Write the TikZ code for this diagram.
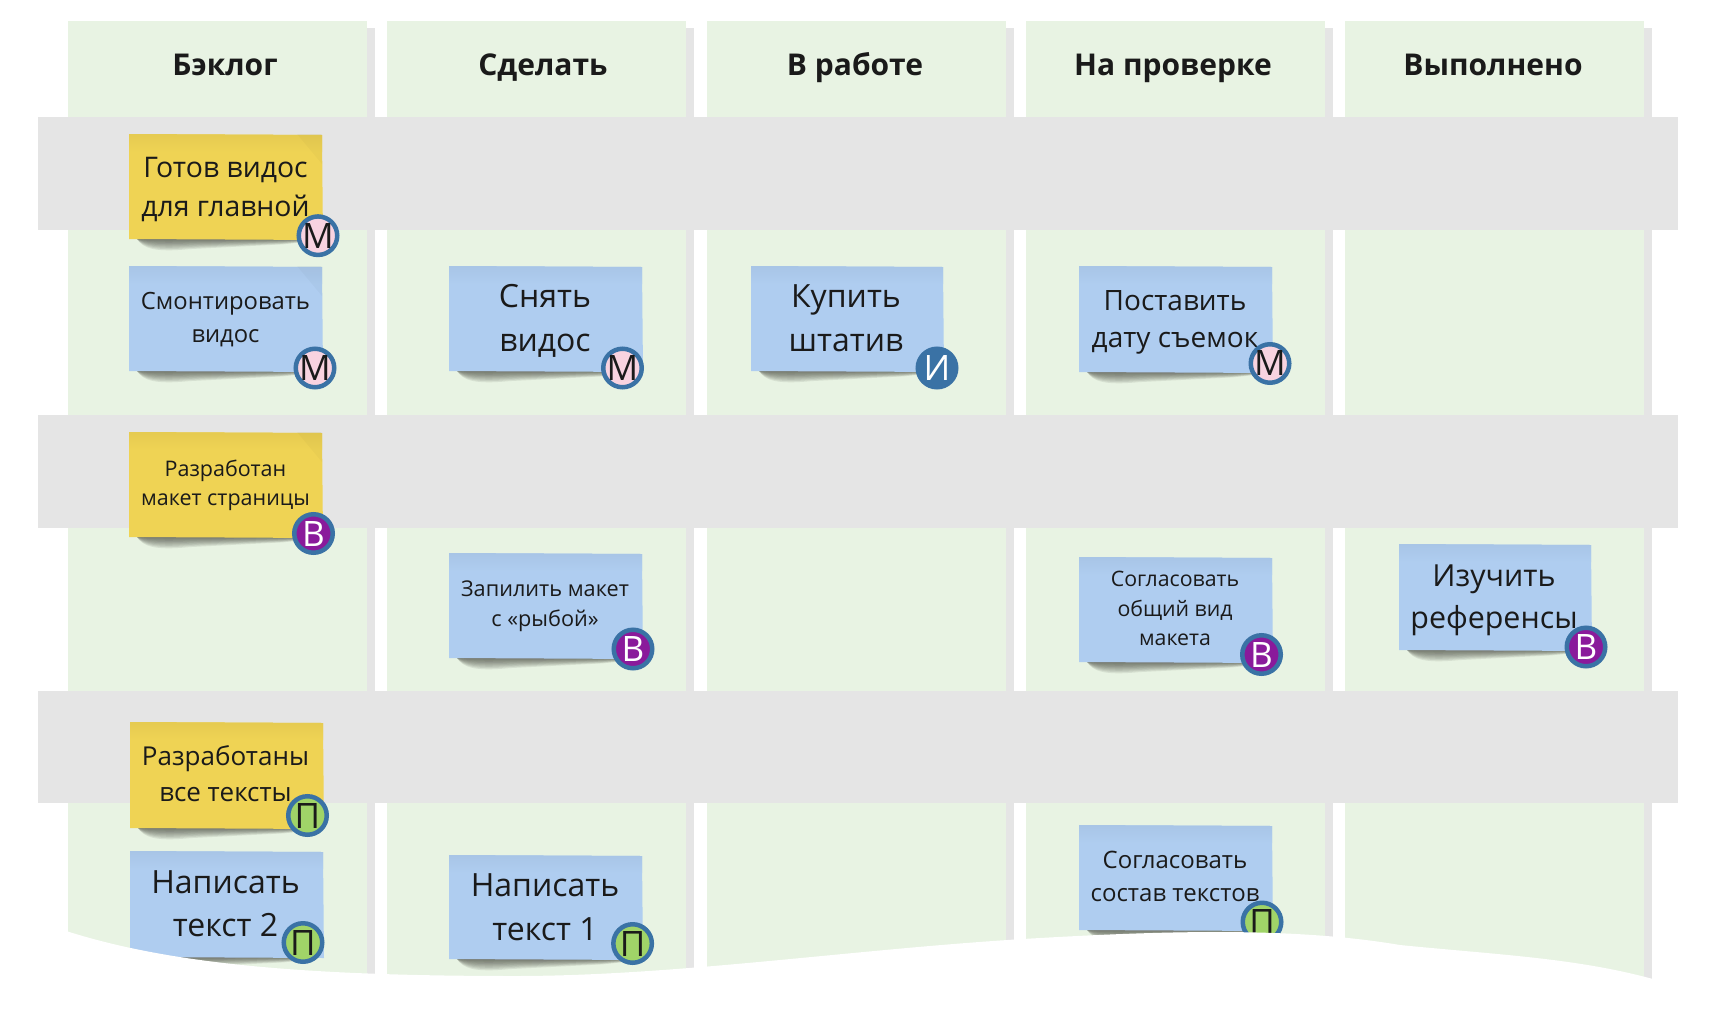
\documentclass[tikz,border=0pt]{standalone}
\usepackage{fontspec}
\setmainfont{Open Sans}
\usetikzlibrary{calc}
\definecolor{colgreen}{HTML}{E8F3E3}
\definecolor{bandgrey}{HTML}{E5E5E5}
\definecolor{stickyyellow}{HTML}{EFD354}
\definecolor{stickyblue}{HTML}{AFCDF0}
\definecolor{inkdark}{HTML}{1A1A1A}
\definecolor{ringblue}{HTML}{3A72A5}
\definecolor{fillpink}{HTML}{F8D3E0}
\definecolor{fillpurple}{HTML}{8A1A9B}
\definecolor{fillgreen}{HTML}{A0D468}
\definecolor{shadowink}{HTML}{2A2A22}
\newcommand{\fsz}[2]{\fontsize{#1}{#2}\selectfont}
\newcommand{\colbox}[2]{%
  \fill[bandgrey] (#2-1,28) rectangle (#2+8,1000);
  \fill[colgreen] (#1,21) rectangle (#2,1000);}
\newcommand{\bandbox}[2]{\fill[bandgrey] (38,#1) rectangle (1678,#2);}
\newcommand{\cardbg}[5]{%
  \foreach \h in {1.5,3,...,13.5}{
    \fill[shadowink,opacity=.09] (#1+8,#4) .. controls (#1+14,#4+\h*.7) and (#1+26,#4+\h) .. (#1+60,#4+\h*.75)
      -- (#3-40,#4+\h*.4) .. controls (#3-20,#4+\h*.25) .. (#3-2,#4) -- cycle;}
  \fill[#5] (#1,#2) -- (#3,#2+1) -- (#3+1,#4+1) -- (#1,#4) -- cycle;
  \shade[top color=#5!96!black,bottom color=#5] (#1,#2) -- (#3,#2+1) -- (#3,#2+18) -- (#1,#2+18) -- cycle;}
\newcommand{\foldmark}[2]{\fill[black,opacity=.025] (#1-25,#2) -- (#1,#2) -- (#1,#2+30) -- cycle;}
\tikzset{
  x=1pt,y=-1pt,
  header/.style={font=\bfseries\fsz{30}{34},text=inkdark,inner sep=0pt,anchor=center,text height=22pt,text depth=7pt},
  cardtext/.style={text=inkdark,align=center,inner sep=0pt,anchor=center},
  badge/.style={circle,draw=ringblue,line width=4.5pt,minimum size=38.5pt,inner sep=-6pt,
    font=\fsz{35}{38},text=inkdark},
  badgeM/.style={badge,fill=fillpink},
  badgeI/.style={badge,fill=ringblue,text=white},
  badgeV/.style={badge,fill=fillpurple,text=white},
  badgeP/.style={badge,fill=fillgreen},
}
\begin{document}
\begin{tikzpicture}
\useasboundingbox (0,0) rectangle (1716,1020);
\colbox{68}{367}
\colbox{387}{686}
\colbox{707}{1006}
\colbox{1026}{1325}
\colbox{1345}{1644}
\bandbox{117}{230}
\bandbox{415}{527.5}
\bandbox{690.5}{803}
\node[header] (h1) at (225,67.5) {Бэклог};
\node[header] (h2) at (543,67.5) {Сделать};
\node[header] (h3) at (855,67.5) {В работе};
\node[header] (h4) at (1173,67.5) {На проверке};
\node[header] (h5) at (1493,67.5) {Выполнено};
% cards
\cardbg{129}{134}{322}{239}{stickyyellow}
\foldmark{322}{134}
\node[cardtext,font=\fsz{28.4}{39}] (c1) at (225.5,189) {Готов видос\\для главной};
\node[badgeM] (b1) at (318,235.7) {М};
\cardbg{129}{266}{322}{371}{stickyblue}
\foldmark{322}{266}
\node[cardtext,font=\fsz{23.8}{33}] (c2) at (225.5,319.7) {Смонтировать\\видос};
\node[badgeM] (b2) at (315,368) {М};
\cardbg{449}{266}{642}{371}{stickyblue}
\node[cardtext,font=\fsz{32}{44}] (c3) at (545,320.7) {Снять\\видос};
\node[badgeM] (b3) at (622.5,368) {М};
\cardbg{751}{266}{943}{371}{stickyblue}
\node[cardtext,font=\fsz{32}{44}] (c4) at (846,318.5) {Купить\\штатив};
\node[badgeI] (b4) at (937,368) {И};
\cardbg{1079}{266}{1272}{372}{stickyblue}
\node[cardtext,font=\fsz{28}{37}] (c5) at (1175,322.3) {Поставить\\дату съемок};
\node[badgeM] (b5) at (1270,363.5) {М};
\cardbg{129}{432}{322}{537}{stickyyellow}
\foldmark{322}{432}
\node[cardtext,font=\fsz{21.5}{29.5}] (c6) at (225.5,485.2) {Разработан\\макет страницы};
\node[badgeV] (b6) at (313.5,533.5) {В};
\cardbg{449}{553}{642}{658}{stickyblue}
\node[cardtext,font=\fsz{21.7}{29.5}] (c7) at (545,606.2) {Запилить макет\\с «рыбой»};
\node[badgeV] (b7) at (633,649) {В};
\cardbg{1079}{557}{1272}{662}{stickyblue}
\node[cardtext,font=\fsz{21.3}{29.5}] (c8) at (1175,608.5) {Согласовать\\общий вид\\макета};
\node[badgeV] (b8) at (1261.5,654.5) {В};
\cardbg{1399}{544}{1591}{650}{stickyblue}
\node[cardtext,font=\fsz{30.4}{41.5}] (c9) at (1494,600.3) {Изучить\\референсы};
\node[badgeV] (b9) at (1586,647) {В};
\cardbg{130}{722}{323}{828}{stickyyellow}
\node[cardtext,font=\fsz{26}{36}] (c10) at (225.5,774) {Разработаны\\все тексты};
\node[badgeP] (b10) at (307.5,815.5) {П};
\cardbg{130}{851}{323}{957}{stickyblue}
\node[cardtext,font=\fsz{32}{43}] (c11) at (225.5,903.5) {Написать\\текст 2};
\node[badgeP] (b11) at (303,942.5) {П};
\cardbg{449}{855}{642}{959}{stickyblue}
\node[cardtext,font=\fsz{32}{44}] (c12) at (545,907) {Написать\\текст 1};
\node[badgeP] (b12) at (632.6,943.5) {П};
\cardbg{1079}{825}{1272}{930}{stickyblue}
\node[cardtext,font=\fsz{24}{33}] (c13) at (1175,876.5) {Согласовать\\состав текстов};
\node[badgeP] (b13) at (1262,922) {П};
% wavy torn edge
\fill[white] (60,929) .. controls (160,962) and (290,976) .. (515,976)
  .. controls (680,976) and (860,948) .. (1040,938)
  .. controls (1180,930) and (1300,928) .. (1400,945)
  .. controls (1500,955) and (1580,958) .. (1660,981)
  -- (1700,1020) -- (0,1020) -- (0,929) -- cycle;
\end{tikzpicture}
\end{document}
